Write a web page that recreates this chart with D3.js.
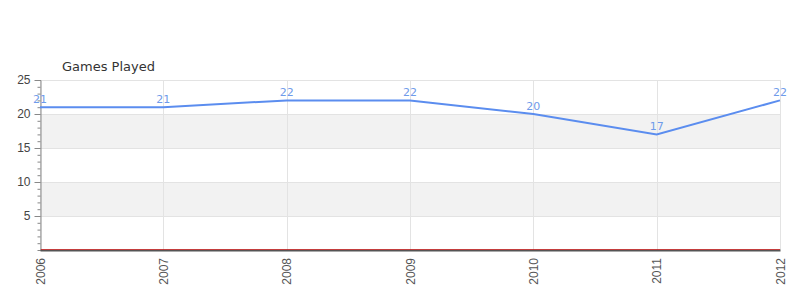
<!DOCTYPE html>
<html>
<head>
<meta charset="utf-8">
<script src="https://cdn.jsdelivr.net/npm/d3@7"></script>
<style>
  body { margin: 0; background: #fff; }
  svg { font-family: "DejaVu Sans", sans-serif; }
</style>
</head>
<body>
<svg id="chart" width="800" height="300"></svg>
<script>
const years = [2006, 2007, 2008, 2009, 2010, 2011, 2012];
const gamesPlayed = [21, 21, 22, 22, 20, 17, 22];
const yTicks = [5, 10, 15, 20, 25];
const chartTitle = "Games Played";

const margin = { top: 80, right: 20, bottom: 50, left: 40 };
const width = 800, height = 300;

const svg = d3.select("#chart");

const x = d3.scaleLinear()
  .domain(d3.extent(years))
  .range([margin.left, width - margin.right]);

const y = d3.scaleLinear()
  .domain([0, 25])
  .range([height - margin.bottom, margin.top]);

// alternating bands
const bands = [[5, 10], [15, 20]];
svg.append("g").selectAll("rect")
  .data(bands)
  .join("rect")
  .attr("x", margin.left)
  .attr("width", width - margin.right - margin.left)
  .attr("y", d => y(d[1]))
  .attr("height", d => y(d[0]) - y(d[1]))
  .attr("fill", "#f2f2f2");

// grid
const grid = svg.append("g").attr("stroke", "#e3e3e3").attr("stroke-width", 1);
grid.selectAll("line.h")
  .data(yTicks)
  .join("line")
  .attr("class", "h")
  .attr("x1", margin.left).attr("x2", width - margin.right)
  .attr("y1", d => Math.round(y(d)) + 0.5).attr("y2", d => Math.round(y(d)) + 0.5);
grid.selectAll("line.v")
  .data(years)
  .join("line")
  .attr("class", "v")
  .attr("x1", d => Math.round(x(d)) + 0.5).attr("x2", d => Math.round(x(d)) + 0.5)
  .attr("y1", margin.top).attr("y2", height - margin.bottom);

// y axis with minor ticks
const yAxisG = svg.append("g")
  .attr("transform", `translate(${margin.left + 0.5},0)`);
yAxisG.call(d3.axisLeft(y).tickValues(d3.range(1, 26)).tickSize(3).tickFormat(""))
  .call(g => g.selectAll("line").attr("stroke", "#888"))
  .call(g => g.select(".domain").attr("stroke", "#888"));
yAxisG.append("g")
  .call(d3.axisLeft(y).tickValues(yTicks).tickSize(6).tickPadding(4))
  .call(g => g.select(".domain").remove())
  .call(g => g.selectAll("line").attr("stroke", "#888"))
  .call(g => g.selectAll("text").attr("fill", "#444").style("font-size", "12px"));

// x axis
const xAxisG = svg.append("g")
  .attr("transform", `translate(0,${height - margin.bottom})`)
  .call(d3.axisBottom(x).tickValues(years).tickFormat(d3.format("d")).tickSize(0).tickPadding(8))
  .call(g => g.select(".domain").attr("stroke", "#555").attr("stroke-width", 2));
xAxisG.selectAll("text")
  .attr("fill", "#555")
  .style("font-size", "12px")
  .attr("text-anchor", "end")
  .attr("transform", "rotate(-90)")
  .attr("x", -8)
  .attr("y", 0)
  .attr("dy", "0.35em");

// thin red baseline over the axis
svg.append("line")
  .attr("x1", margin.left + 1).attr("x2", width - margin.right)
  .attr("y1", y(0) - 0.5).attr("y2", y(0) - 0.5)
  .attr("stroke", "#d01010").attr("stroke-width", 1)
  .attr("stroke-opacity", 0.7);

// title
svg.append("text")
  .attr("x", 62).attr("y", 71)
  .attr("fill", "#333")
  .style("font-size", "13px")
  .text(chartTitle);

// line
const data = years.map((yr, i) => ({ year: yr, value: gamesPlayed[i] }));
svg.append("path")
  .datum(data)
  .attr("fill", "none")
  .attr("stroke", "#5b8def")
  .attr("stroke-width", 2)
  .attr("d", d3.line().x(d => x(d.year)).y(d => y(d.value)));

// labels
svg.append("g").selectAll("text")
  .data(data)
  .join("text")
  .attr("x", d => x(d.year))
  .attr("y", d => y(d.value) - 4)
  .attr("text-anchor", "middle")
  .attr("fill", "#6f9bea")
  .style("font-size", "11px")
  .text(d => d.value);
</script>
</body>
</html>
